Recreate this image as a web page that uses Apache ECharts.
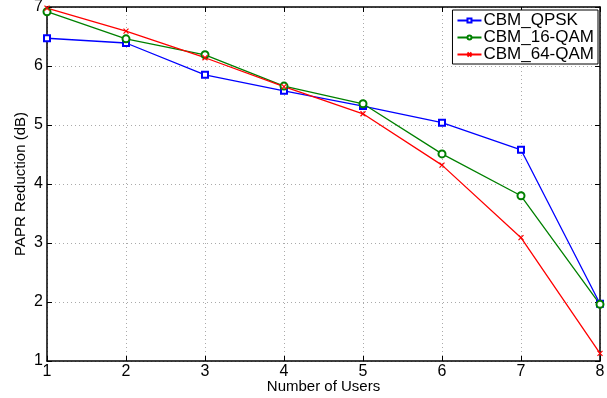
<!DOCTYPE html>
<html>
<head>
    <meta charset="utf-8">
    <title>PAPR Reduction</title>
    <script src="https://cdn.jsdelivr.net/npm/echarts@6/dist/echarts.min.js"></script>
    <style>
        body { margin: 0; background: #fff; }
    </style>
</head>
<body>
    <div id="main" style="width: 607px;height:398px;"></div>
    <script type="text/javascript">
    // data
    var users = [1, 2, 3, 4, 5, 6, 7, 8];
    var qpsk  = [6.47, 6.39, 5.85, 5.58, 5.32, 5.04, 4.58, 1.97];
    var qam16 = [6.92, 6.46, 6.19, 5.66, 5.36, 4.51, 3.80, 1.96];
    var qam64 = [6.98, 6.59, 6.14, 5.65, 5.19, 4.32, 3.09, 1.13];
    var seriesNames = ['CBM_QPSK', 'CBM_16-QAM', 'CBM_64-QAM'];

    function pairs(ys) {
        return users.map(function (x, i) { return [x, ys[i]]; });
    }

    var font = 'Liberation Sans, Arial, sans-serif';
    var crossPath = 'path://M0,0L10,10M10,0L0,10';

    var myChart = echarts.init(document.getElementById('main'));

    var option = {
        backgroundColor: '#fff',
        animation: false,
        grid: { left: 47, right: 7, top: 7, bottom: 37, containLabel: false, outerBoundsMode: 'none' },
        legend: {
            right: 9, top: 10,
            orient: 'vertical',
            backgroundColor: '#fff',
            borderColor: '#000',
            borderWidth: 1,
            borderRadius: 0,
            padding: [2, 4, 1, 4],
            itemGap: 0,
            itemWidth: 24,
            itemHeight: 5,
            textStyle: { fontFamily: font, fontSize: 17, lineHeight: 17, color: '#000', padding: [0, 0, 0, -3] },
            data: seriesNames
        },
        xAxis: [{
            type: 'value', min: 1, max: 8, interval: 1,
            name: 'Number of Users', nameLocation: 'middle', nameGap: 18, nameMoveOverlap: false,
            nameTextStyle: { fontFamily: font, fontSize: 15, color: '#000' },
            axisLine: { lineStyle: { color: '#000', width: 1.5 } },
            axisTick: { inside: true, length: 5, lineStyle: { color: '#000' } },
            axisLabel: { fontFamily: font, fontSize: 16, color: '#000', margin: 3 },
            splitLine: { show: true, lineStyle: { color: '#aaa', type: [1, 3] } }
        }, {
            type: 'value', min: 1, max: 8, interval: 1, position: 'top',
            axisLine: { show: true, lineStyle: { color: '#000', width: 1.5 } },
            axisTick: { show: true, inside: true, length: 5, lineStyle: { color: '#000' } },
            axisLabel: { show: false },
            splitLine: { show: false }
        }],
        yAxis: [{
            type: 'value', min: 1, max: 7, interval: 1,
            name: 'PAPR Reduction (dB)', nameLocation: 'middle', nameGap: 19, nameMoveOverlap: false,
            nameTextStyle: { fontFamily: font, fontSize: 15, color: '#000' },
            axisLine: { show: true, lineStyle: { color: '#000', width: 1.5 } },
            axisTick: { show: true, inside: true, length: 5, lineStyle: { color: '#000' } },
            axisLabel: { fontFamily: font, fontSize: 16, color: '#000', margin: 4 },
            splitLine: { show: true, lineStyle: { color: '#aaa', type: [1, 3] } }
        }, {
            type: 'value', min: 1, max: 7, interval: 1, position: 'right',
            axisLine: { show: true, lineStyle: { color: '#000', width: 1.5 } },
            axisTick: { show: true, inside: true, length: 5, lineStyle: { color: '#000' } },
            axisLabel: { show: false },
            splitLine: { show: false }
        }],
        series: [{
            name: seriesNames[0], type: 'line', data: pairs(qpsk),
            symbol: 'emptyRect', symbolSize: 6,
            itemStyle: { color: '#0000ff', borderColor: '#0000ff', borderWidth: 1.2 },
            lineStyle: { color: '#0000ff', width: 1.3 }
        }, {
            name: seriesNames[1], type: 'line', data: pairs(qam16),
            symbol: 'emptyCircle', symbolSize: 7,
            itemStyle: { color: '#008000', borderColor: '#008000', borderWidth: 1.2 },
            lineStyle: { color: '#008000', width: 1.3 }
        }, {
            name: seriesNames[2], type: 'line', data: pairs(qam64),
            symbol: crossPath, symbolSize: 5,
            itemStyle: { color: '#ff0000', borderColor: '#ff0000', borderWidth: 1.2 },
            lineStyle: { color: '#ff0000', width: 1.3 }
        }]
    };

    myChart.setOption(option);
    </script>
</body>
</html>
